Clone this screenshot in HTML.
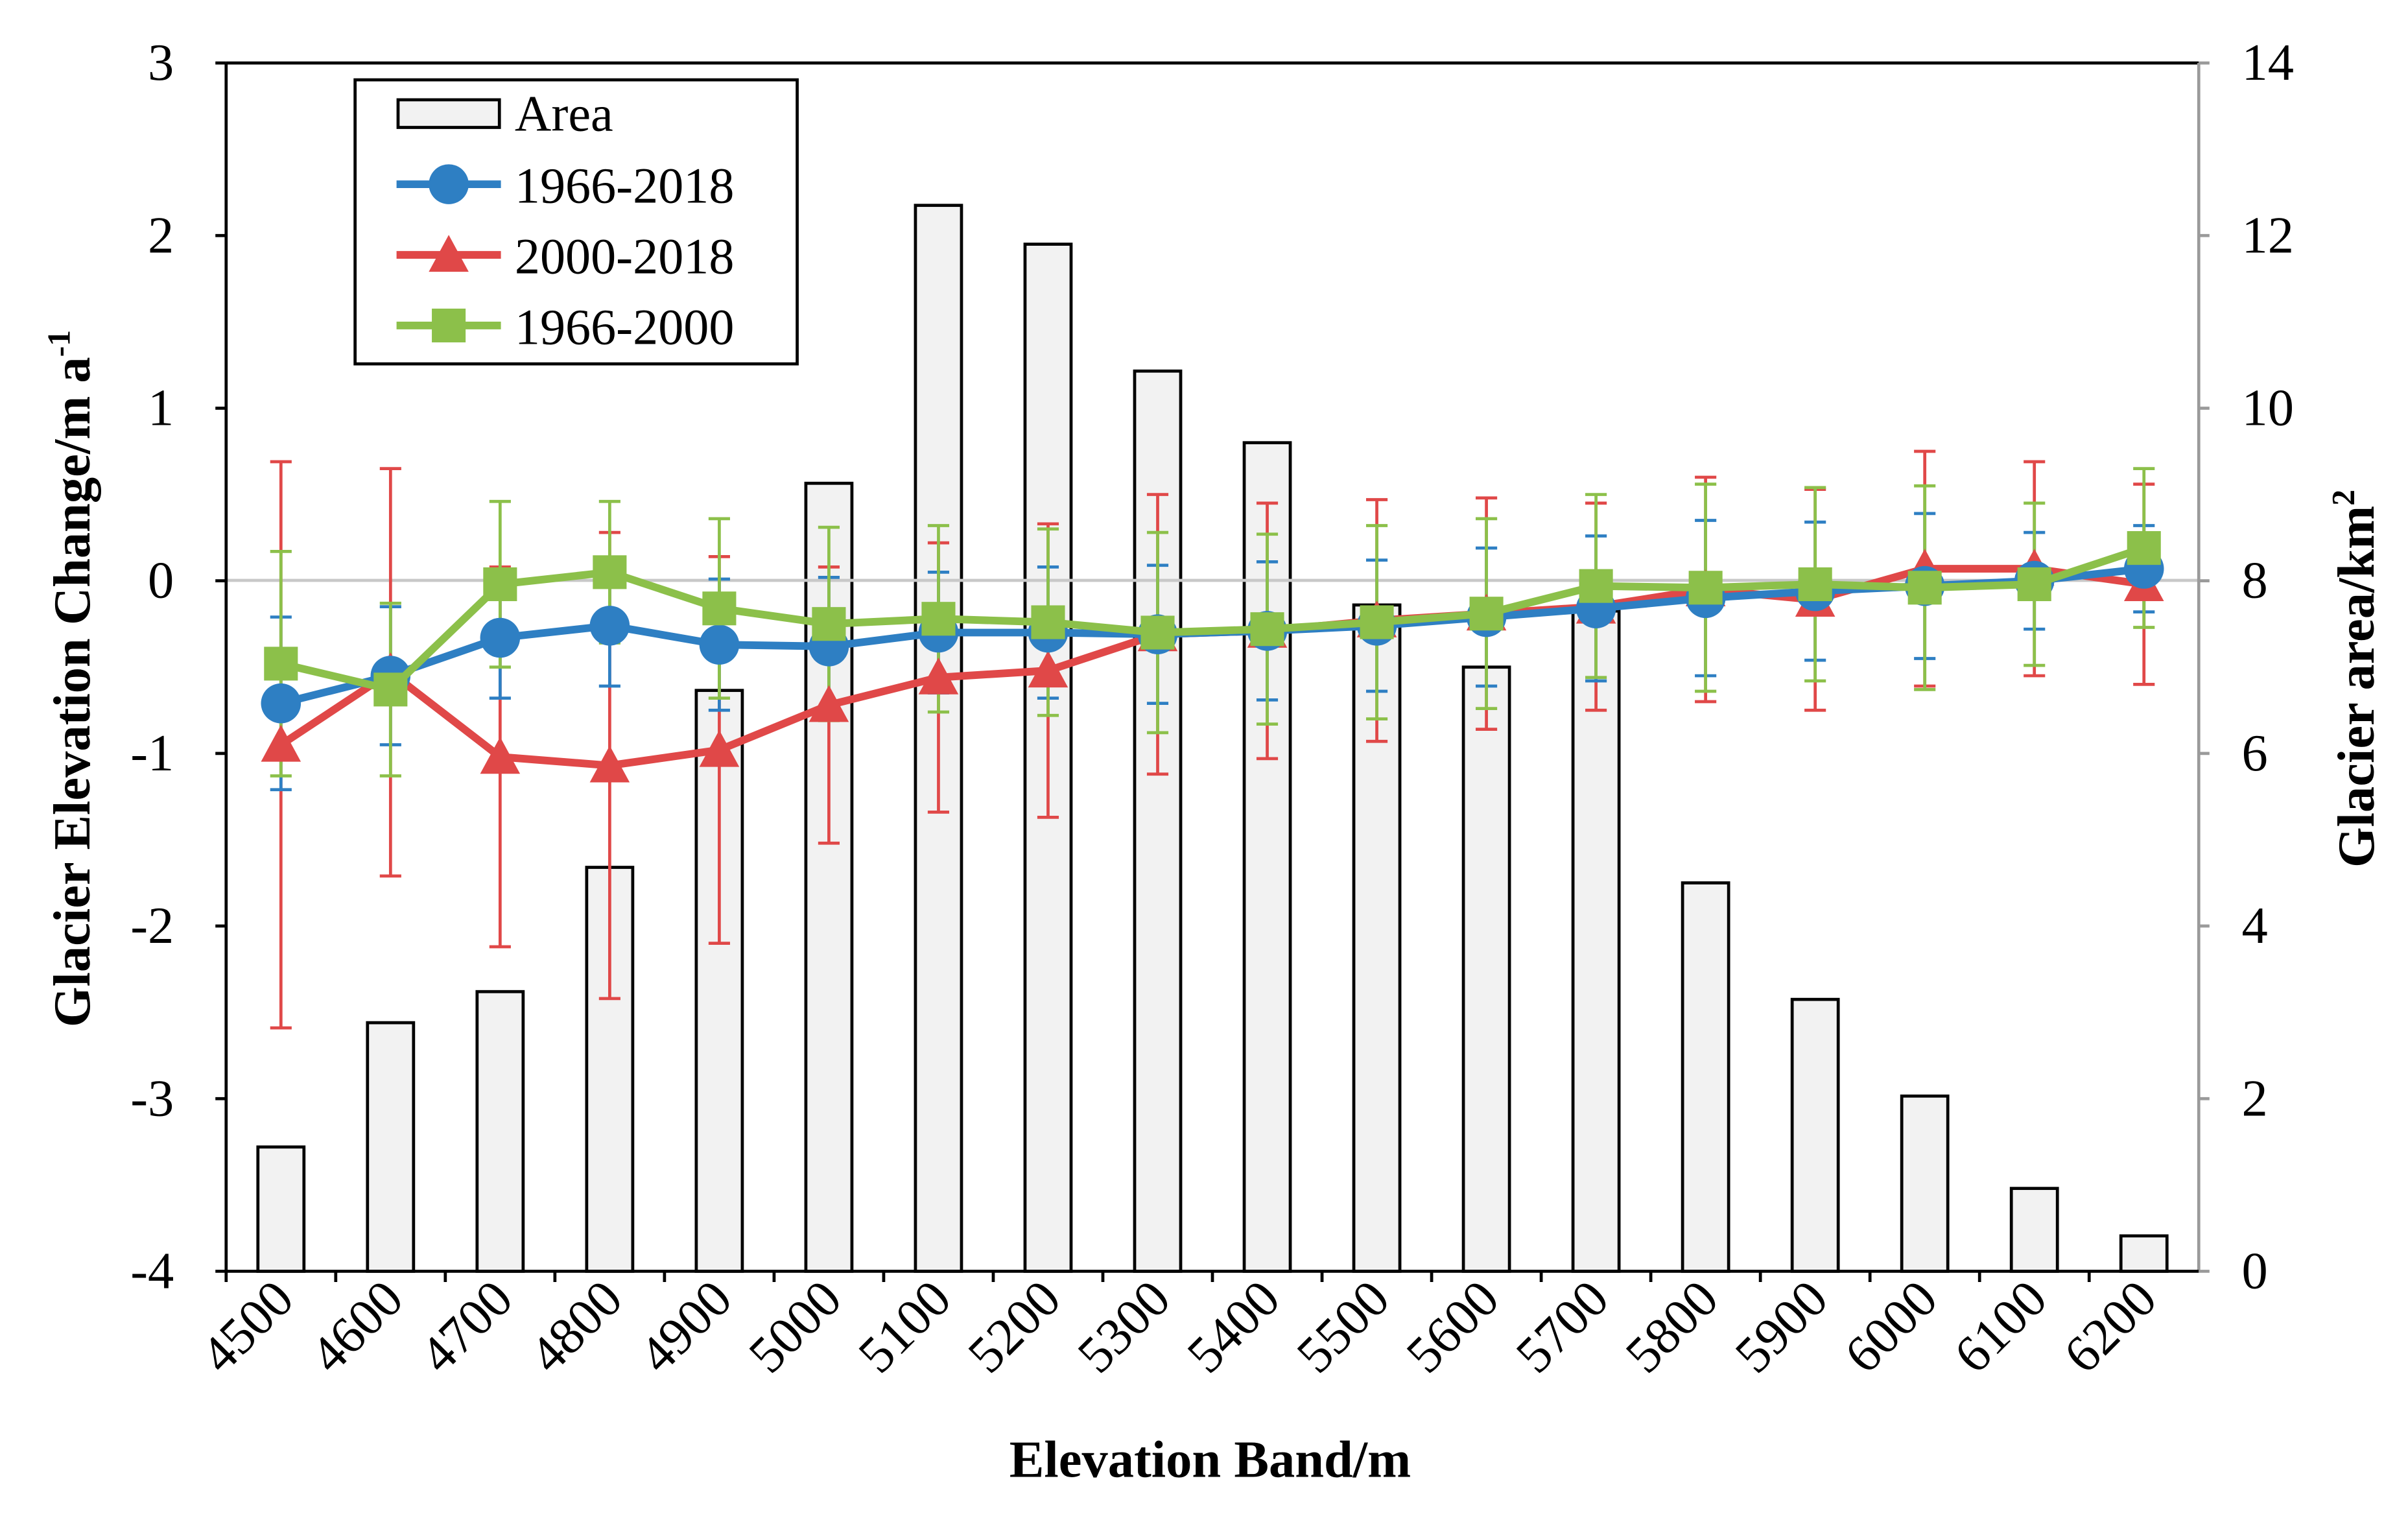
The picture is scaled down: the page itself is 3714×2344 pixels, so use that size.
<!DOCTYPE html>
<html><head><meta charset="utf-8"><style>
html,body{margin:0;padding:0;background:#fff;}
svg{display:block;font-family:"Liberation Serif",serif;}
</style></head><body>
<svg id="chart" width="3714" height="2344" viewBox="0 0 1568 990" xmlns="http://www.w3.org/2000/svg">
<rect x="0" y="0" width="1568" height="990" fill="#fff"/>
<g id="bars"></g>
<line x1="147" y1="378" x2="1432" y2="378" stroke="#c8c8c8" stroke-width="2"/>
<g id="err"></g>
<g id="lines"></g>
<g id="axes"></g>
<g>
 <rect x="231" y="52" width="288" height="185" fill="#fff" stroke="#000" stroke-width="2"/>
 <g>
  <rect x="259" y="65" width="66" height="18" fill="#f2f2f2" stroke="#000" stroke-width="2"/>
  <text x="335" y="85" font-size="33">Area</text></g>
 <g>
  <line x1="258" y1="120" x2="326" y2="120" stroke="#2e7fc3" stroke-width="5"/>
  <circle cx="292" cy="120" r="13" fill="#2e7fc3"/>
  <text x="335" y="132" font-size="33">1966-2018</text></g>
 <g>
  <line x1="258" y1="166" x2="326" y2="166" stroke="#e04848" stroke-width="5"/>
  <polygon points="292,153 305,177 279,177" fill="#e04848"/>
  <text x="335" y="178" font-size="33">2000-2018</text></g>
 <g>
  <line x1="258" y1="212" x2="326" y2="212" stroke="#8cc04a" stroke-width="5"/>
  <rect x="281" y="201" width="22" height="22" fill="#8cc04a"/>
  <text x="335" y="224" font-size="33">1966-2000</text></g>
</g>
<text transform="translate(58,442) rotate(-90)" text-anchor="middle" font-size="34" font-weight="bold">Glacier Elevation Change/m a<tspan font-size="21" dy="-13">-1</tspan></text>
<text transform="translate(1546,442) rotate(-90)" text-anchor="middle" font-size="34" font-weight="bold">Glacier area/km<tspan font-size="21" dy="-13">2</tspan></text>
<text x="788" y="962" text-anchor="middle" font-size="34" font-weight="bold">Elevation Band/m</text>
</svg>
<script>
const categories=[4500,4600,4700,4800,4900,5000,5100,5200,5300,5400,5500,5600,5700,5800,5900,6000,6100,6200];
const area=[1.44,2.88,3.24,4.68,6.73,9.13,12.35,11.9,10.43,9.6,7.72,7.0,7.65,4.5,3.15,2.03,0.96,0.41];
const s6618=[-0.71,-0.55,-0.33,-0.26,-0.37,-0.38,-0.3,-0.3,-0.31,-0.29,-0.26,-0.21,-0.16,-0.1,-0.06,-0.03,0,0.07];
const e6618=[0.5,0.4,0.35,0.35,0.38,0.4,0.35,0.38,0.4,0.4,0.38,0.4,0.42,0.45,0.4,0.42,0.28,0.25];
const s0018=[-0.95,-0.53,-1.02,-1.07,-0.98,-0.72,-0.56,-0.52,-0.31,-0.29,-0.23,-0.19,-0.15,-0.05,-0.11,0.07,0.07,-0.02];
const e0018=[1.64,1.18,1.1,1.35,1.12,0.8,0.78,0.85,0.81,0.74,0.7,0.67,0.6,0.65,0.64,0.68,0.62,0.58];
const s6600=[-0.48,-0.63,-0.02,0.05,-0.16,-0.25,-0.22,-0.24,-0.3,-0.28,-0.24,-0.19,-0.03,-0.04,-0.02,-0.04,-0.02,0.19];
const e6600=[0.65,0.5,0.48,0.41,0.52,0.56,0.54,0.54,0.58,0.55,0.56,0.55,0.53,0.6,0.56,0.59,0.47,0.46];
const yTicks=[3,2,1,0,-1,-2,-3,-4];
const y2Ticks=[0,2,4,6,8,10,12,14];

const NS="http://www.w3.org/2000/svg";
const L=147,R=1432,T=41,B=828;
const bw=(R-L)/categories.length;
const xs=i=>L+bw*(i+0.5);
const ys=v=>T+(3-v)*(B-T)/7;
const y2=v=>B-v*(B-T)/14;
function mk(tag,attrs,parent){const e=document.createElementNS(NS,tag);for(const k in attrs)e.setAttribute(k,attrs[k]);parent.appendChild(e);return e;}
const gb=document.getElementById('bars'),ge=document.getElementById('err'),gl=document.getElementById('lines'),ga=document.getElementById('axes');
area.forEach((v,i)=>{
 const r=mk('rect',{x:xs(i)-15,y:y2(v),width:30,height:B-y2(v),fill:'#f2f2f2',stroke:'#000','stroke-width':2},gb);
 
 
});
const series=[[s0018,e0018,'#e04848','tri','2000-2018'],[s6618,e6618,'#2e7fc3','circ','1966-2018'],[s6600,e6600,'#8cc04a','sq','1966-2000']];
series.forEach(([s,e,c,m,n])=>{
 s.forEach((v,i)=>{
  const g=mk('g',{stroke:c,'stroke-width':2},ge);
  
  
  const x=xs(i);
  mk('line',{x1:x,x2:x,y1:ys(v+e[i]),y2:ys(v-e[i])},g);
  mk('line',{x1:x-7,x2:x+7,y1:ys(v+e[i]),y2:ys(v+e[i])},g);
  mk('line',{x1:x-7,x2:x+7,y1:ys(v-e[i]),y2:ys(v-e[i])},g);
 });
});
series.forEach(([s,e,c,m,n])=>{
 const p=mk('polyline',{points:s.map((v,i)=>xs(i)+','+ys(v)).join(' '),fill:'none',stroke:c,'stroke-width':5},gl);
 
 
 s.forEach((v,i)=>{
  const x=xs(i),y=ys(v);let el;
  if(m==='circ')el=mk('circle',{cx:x,cy:y,r:13,fill:c},gl);
  else if(m==='tri')el=mk('polygon',{points:`${x},${y-13} ${x+13},${y+11} ${x-13},${y+11}`,fill:c},gl);
  else el=mk('rect',{x:x-11,y:y-11,width:22,height:22,fill:c},gl);
  
  
 });
});
mk('line',{x1:L,y1:T,x2:R,y2:T,stroke:'#000','stroke-width':2},ga);
mk('line',{x1:R,y1:T,x2:R,y2:B,stroke:'#9a9a9a','stroke-width':2},ga);
mk('line',{x1:L,y1:T,x2:L,y2:B,stroke:'#000','stroke-width':2},ga);
mk('line',{x1:L,y1:B,x2:R,y2:B,stroke:'#000','stroke-width':2},ga);
yTicks.forEach(v=>{
 mk('line',{x1:L-7,x2:L,y1:ys(v),y2:ys(v),stroke:'#000','stroke-width':2},ga);
 const t=mk('text',{x:113,y:ys(v)+11,'text-anchor':'end','font-size':34},ga);t.textContent=v;
 
 
});
y2Ticks.forEach(v=>{
 mk('line',{x1:R,x2:R+7,y1:y2(v),y2:y2(v),stroke:'#9a9a9a','stroke-width':2},ga);
 const t=mk('text',{x:1460,y:y2(v)+11,'text-anchor':'start','font-size':34},ga);t.textContent=v;
 
 
});
categories.forEach((c,i)=>{
 mk('line',{x1:L+bw*i,x2:L+bw*i,y1:B,y2:B+7,stroke:'#000','stroke-width':2},ga);
 const x=xs(i)+10,y=B+20;
 const t=mk('text',{x:x,y:y,'text-anchor':'end','font-size':34,transform:`rotate(-45 ${x} ${y})`},ga);t.textContent=c;
 
 
});
</script>
</body></html>
